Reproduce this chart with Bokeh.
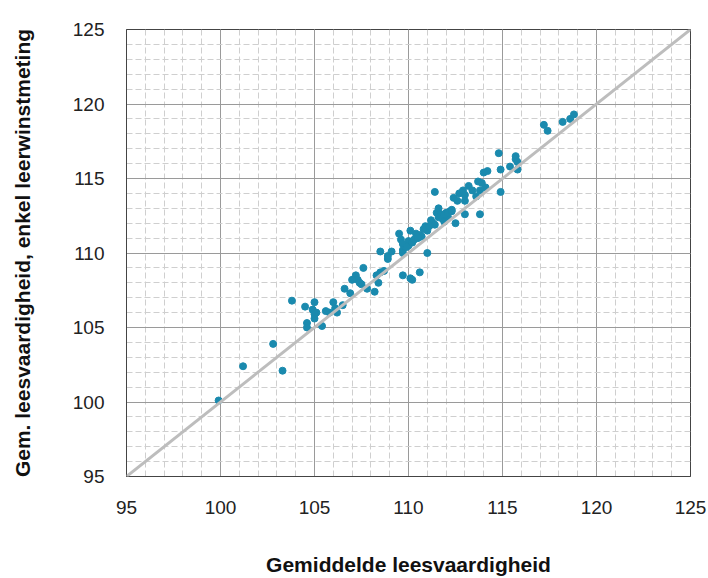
from bokeh.plotting import figure
from bokeh.models import SingleIntervalTicker, Range1d, Slope, ColumnDataSource
from bokeh.embed import file_html
from bokeh.resources import INLINE

# average reading skill (x) vs average reading skill, single learning gain measurement (y)
gem_leesvaardigheid = [
    99.9, 101.2, 102.8, 103.3, 103.8, 104.5, 104.6, 104.6, 105.0, 104.9,
    105.1, 105.0, 105.0, 105.4, 105.8, 106.0, 106.1, 106.2, 106.5, 106.6,
    106.9, 107.2, 107.3, 107.4, 107.6, 107.5, 107.8, 108.2, 108.3, 108.4,
    108.5, 108.7, 108.5, 108.9, 108.9, 109.1, 109.5, 109.6, 109.7, 109.7,
    109.7, 110.0, 110.1, 110.0, 110.2, 110.3, 110.4, 110.6, 110.7, 111.0,
    111.0, 109.7, 110.1, 110.2, 110.6, 111.3, 110.9, 111.5, 111.4, 111.6,
    111.7, 112.0, 112.4, 112.6, 112.7, 112.9, 113.0, 112.5, 113.2, 113.4,
    113.8, 113.7, 114.1, 114.9, 114.8, 115.7, 115.7, 115.8, 115.4, 115.8,
    114.9, 114.2, 114.0, 113.9, 113.8, 113.6, 113.0, 113.0, 112.2, 117.2,
    117.4, 118.2, 118.6, 118.8, 111.2, 111.8, 112.1, 111.9, 112.3, 111.4,
    110.5, 109.9, 110.8, 111.6, 107.0, 105.6, 111.1, 111.9, 112.1, 112.3,
]
gem_enkel_leerwinst = [
    100.1, 102.4, 103.9, 102.1, 106.8, 106.4, 105.3, 105.0, 106.7, 106.2,
    106.0, 105.9, 105.6, 105.1, 106.0, 106.7, 106.3, 106.0, 106.5, 107.6,
    107.3, 108.5, 108.2, 108.0, 109.0, 107.9, 107.6, 107.4, 108.5, 108.0,
    108.7, 108.8, 110.1, 109.6, 109.8, 110.1, 111.3, 110.9, 110.6, 110.2,
    110.0, 110.8, 111.5, 110.5, 110.7, 110.9, 111.3, 111.2, 111.1, 111.5,
    110.0, 108.5, 108.3, 108.2, 108.7, 112.0, 111.8, 112.7, 114.1, 113.0,
    112.6, 112.7, 113.7, 113.5, 114.0, 114.2, 112.6, 112.0, 114.5, 114.2,
    112.6, 114.8, 114.4, 114.1, 116.7, 116.5, 116.3, 116.1, 115.8, 115.6,
    115.6, 115.5, 115.4, 114.7, 114.2, 113.8, 113.9, 113.5, 112.8, 118.6,
    118.2, 118.8, 119.0, 119.3, 112.2, 112.3, 112.4, 112.1, 112.9, 111.9,
    111.0, 110.4, 111.6, 112.4, 108.2, 106.1, 111.8, 112.6, 112.7, 112.8,
]
x_ticks = [95, 100, 105, 110, 115, 120, 125]
y_ticks = [95, 100, 105, 110, 115, 120, 125]

src = ColumnDataSource(dict(x=gem_leesvaardigheid, y=gem_enkel_leerwinst))

p = figure(width=708, height=578, output_backend="svg", toolbar_location=None,
           x_range=Range1d(x_ticks[0], x_ticks[-1]), y_range=Range1d(y_ticks[0], y_ticks[-1]),
           min_border_left=126, min_border_right=18, min_border_top=29, min_border_bottom=100)

p.background_fill_color = "white"
p.border_fill_color = "white"
p.outline_line_color = "#444444"
p.outline_line_width = 1

for ax in (p.xaxis[0], p.yaxis[0]):
    ax.ticker = SingleIntervalTicker(interval=5, num_minor_ticks=5)
    ax.major_tick_line_color = None
    ax.minor_tick_line_color = None
    ax.axis_line_color = "#444444"
    ax.major_label_text_font = "Liberation Sans"
    ax.major_label_text_font_size = "19px"
    ax.major_label_text_color = "#222222"
    ax.axis_label_text_font = "Liberation Sans"
    ax.axis_label_text_font_style = "bold"
    ax.axis_label_text_font_size = "21px"
    ax.axis_label_text_color = "#111111"

p.xaxis.major_label_standoff = 18
p.yaxis.major_label_standoff = 16
p.xaxis.axis_label = "Gemiddelde leesvaardigheid"
p.yaxis.axis_label = "Gem. leesvaardigheid, enkel leerwinstmeting"
p.xaxis.axis_label_standoff = 36
p.yaxis.axis_label_standoff = 36

for g in (p.xgrid[0], p.ygrid[0]):
    g.grid_line_color = "#9a9a9a"
    g.grid_line_width = 1
    g.minor_grid_line_color = "#cfcfcf"
    g.minor_grid_line_dash = "6 3"
    g.minor_grid_line_width = 1

p.add_layout(Slope(gradient=1, y_intercept=0, line_color="#bdbdbd", line_width=3))

p.scatter("x", "y", source=src, size=7, fill_color="#1a8aae", line_color="#1a8aae")

open("out.html", "w").write(file_html(p, INLINE))
